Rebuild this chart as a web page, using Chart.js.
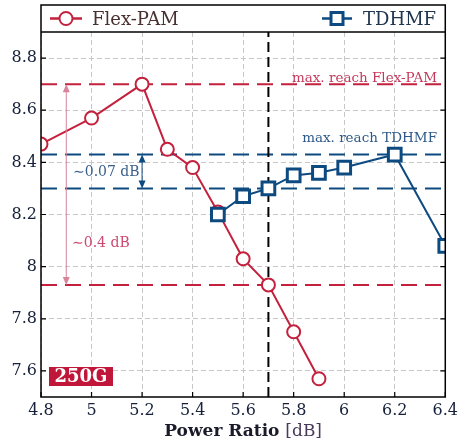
<!DOCTYPE html>
<html>
<head>
<meta charset="utf-8">
<script src="https://cdn.jsdelivr.net/npm/chart.js@4/dist/chart.umd.min.js"></script>
<style>
	html, body { margin: 0; padding: 0; background: #fff; }
	#wrap { width: 462px; height: 440px; }
</style>
</head>
<body>
<div id="wrap"><canvas id="reachChart" width="462" height="440"></canvas></div>
<script>
// values
var flexX = [4.8, 5.0, 5.2, 5.3, 5.4, 5.5, 5.6, 5.7, 5.8, 5.9];
var flexY = [8.47, 8.57, 8.70, 8.45, 8.38, 8.21, 8.03, 7.93, 7.75, 7.57];
var tdX = [5.5, 5.6, 5.7, 5.8, 5.9, 6.0, 6.2, 6.4];
var tdY = [8.20, 8.27, 8.30, 8.35, 8.36, 8.38, 8.43, 8.08];
var xTicks = [4.8, 5.0, 5.2, 5.4, 5.6, 5.8, 6.0, 6.2, 6.4];
var xTickLabels = ['4.8', '5', '5.2', '5.4', '5.6', '5.8', '6', '6.2', '6.4'];
var yTicks = [7.6, 7.8, 8.0, 8.2, 8.4, 8.6, 8.8];
var yTickLabels = ['7.6', '7.8', '8', '8.2', '8.4', '8.6', '8.8'];
var flexReach = [8.70, 7.93];
var tdReach = [8.43, 8.30];
var cutX = 5.7;

var RED = '#c3213d';
var BLUE = '#0c4a80';
var SERIF = '"DejaVu Serif", serif';

function hline(y, color, order){
	return {
		data: [{x: 4.8, y: y}, {x: 6.4, y: y}],
		borderColor: color,
		borderWidth: 2,
		borderDash: [16, 8],
		pointRadius: 0,
		order: order
	};
}

function arrow(ctx, x, y1, y2, color){
	ctx.save();
	ctx.strokeStyle = color;
	ctx.fillStyle = color;
	ctx.lineWidth = 1;
	ctx.beginPath();
	ctx.moveTo(x, y1 + 6);
	ctx.lineTo(x, y2 - 6);
	ctx.stroke();
	[[y1, 1], [y2, -1]].forEach(function(a){
		ctx.beginPath();
		ctx.moveTo(x, a[0]);
		ctx.lineTo(x - 3.5, a[0] + 8 * a[1]);
		ctx.lineTo(x + 3.5, a[0] + 8 * a[1]);
		ctx.closePath();
		ctx.fill();
	});
	ctx.restore();
}

var decorations = {
	id: 'decorations',
	afterDraw: function(chart){
		var ctx = chart.ctx;
		var a = chart.chartArea;
		var xs = chart.scales.x, ys = chart.scales.y;
		ctx.save();

		// inward tick marks
		ctx.strokeStyle = '#000';
		ctx.lineWidth = 1.2;
		ctx.beginPath();
		yTicks.forEach(function(v){
			var py = ys.getPixelForValue(v);
			ctx.moveTo(a.left, py); ctx.lineTo(a.left + 5, py);
			ctx.moveTo(a.right, py); ctx.lineTo(a.right - 5, py);
		});
		xTicks.forEach(function(v){
			var px = xs.getPixelForValue(v);
			ctx.moveTo(px, a.bottom); ctx.lineTo(px, a.bottom - 5);
		});
		ctx.stroke();

		// frame + legend box
		ctx.lineWidth = 1.5;
		ctx.strokeRect(a.left, 5, a.right - a.left, a.bottom - 5);
		ctx.beginPath();
		ctx.moveTo(a.left, a.top); ctx.lineTo(a.right, a.top);
		ctx.stroke();

		// legend
		var ly = 18.5;
		ctx.lineWidth = 2.5;
		ctx.strokeStyle = RED;
		ctx.beginPath(); ctx.moveTo(50, ly); ctx.lineTo(82, ly); ctx.stroke();
		ctx.fillStyle = '#fff';
		ctx.lineWidth = 2;
		ctx.beginPath(); ctx.arc(66, ly, 6.5, 0, Math.PI * 2); ctx.fill(); ctx.stroke();
		ctx.strokeStyle = BLUE;
		ctx.lineWidth = 2.5;
		ctx.beginPath(); ctx.moveTo(322, ly); ctx.lineTo(352, ly); ctx.stroke();
		ctx.lineWidth = 3;
		ctx.fillRect(331, ly - 6, 12, 12); ctx.strokeRect(331, ly - 6, 12, 12);
		ctx.font = '18px ' + SERIF;
		ctx.textBaseline = 'alphabetic';
		ctx.textAlign = 'left';
		ctx.fillStyle = '#4a3030';
		ctx.fillText('Flex-PAM', 92, 25);
		ctx.fillStyle = '#203650';
		ctx.fillText('TDHMF', 363, 25);

		// reach annotations
		arrow(ctx, xs.getPixelForValue(4.9), ys.getPixelForValue(flexReach[0]), ys.getPixelForValue(flexReach[1]), '#d8849a');
		arrow(ctx, xs.getPixelForValue(5.2), ys.getPixelForValue(tdReach[0]), ys.getPixelForValue(tdReach[1]), BLUE);
		ctx.font = '13.5px ' + SERIF;
		ctx.textAlign = 'right';
		ctx.fillStyle = '#c23a5c';
		ctx.fillText('max. reach Flex-PAM', 437, 82);
		ctx.fillStyle = '#2d5888';
		ctx.fillText('max. reach TDHMF', 437, 142);
		ctx.font = '14px ' + SERIF;
		ctx.textAlign = 'left';
		ctx.fillStyle = '#3a5f8a';
		ctx.fillText('\u223C0.07 dB', 73, 176);
		ctx.fillStyle = '#cc4a70';
		ctx.fillText('\u223C0.4 dB', 72, 247);

		// rate badge
		ctx.fillStyle = '#c0163a';
		ctx.fillRect(49, 367, 64, 19);
		ctx.fillStyle = '#fff';
		ctx.font = 'bold 18px ' + SERIF;
		ctx.textAlign = 'center';
		ctx.textBaseline = 'middle';
		ctx.fillText('250G', 81, 377);

		// x axis title, bold + normal parts
		ctx.textBaseline = 'alphabetic';
		ctx.textAlign = 'left';
		ctx.font = 'bold 17px ' + SERIF;
		var w1 = ctx.measureText('Power Ratio ').width;
		ctx.font = '17px ' + SERIF;
		var w2 = ctx.measureText('[dB]').width;
		var sx = (a.left + a.right) / 2 - (w1 + w2) / 2;
		ctx.font = 'bold 17px ' + SERIF;
		ctx.fillStyle = '#1a1a2a';
		ctx.fillText('Power Ratio ', sx, 436);
		ctx.font = '17px ' + SERIF;
		ctx.fillStyle = '#4a3a5a';
		ctx.fillText('[dB]', sx + w1, 436);
		ctx.restore();
	}
};

var chart = new Chart(document.getElementById('reachChart'), {
	type: 'line',
	data: {
		datasets: [
		{
			label: 'TDHMF',
			data: tdX.map(function(x, i){ return {x: x, y: tdY[i]}; }),
			borderColor: BLUE,
			borderWidth: 2,
			pointStyle: 'rect',
			pointRadius: 9,
			pointBorderWidth: 3,
			pointBackgroundColor: '#fff',
			order: 0
		},
		{
			label: 'Flex-PAM',
			data: flexX.map(function(x, i){ return {x: x, y: flexY[i]}; }),
			borderColor: RED,
			borderWidth: 2,
			pointStyle: 'circle',
			pointRadius: 6.5,
			pointBorderWidth: 2,
			pointBackgroundColor: '#fff',
			order: 1
		},
		{
			data: [{x: cutX, y: 7.5}, {x: cutX, y: 8.9}],
			borderColor: '#000',
			borderWidth: 2,
			borderDash: [10, 5],
			pointRadius: 0,
			order: 2
		},
		hline(flexReach[0], RED, 3),
		hline(flexReach[1], RED, 3),
		hline(tdReach[0], BLUE, 3),
		hline(tdReach[1], BLUE, 3)
		]
	},
	options: {
		responsive: false,
		animation: false,
		layout: { padding: { left: 0, right: 15, top: 32, bottom: 0 } },
		plugins: {
			legend: { display: false },
			tooltip: { enabled: false }
		},
		scales: {
			x: {
				type: 'linear',
				min: 4.8,
				max: 6.4,
				afterBuildTicks: function(s){ s.ticks = xTicks.map(function(v){ return {value: v}; }); },
				afterFit: function(s){ s.height = 43; },
				ticks: {
					callback: function(v){ return xTickLabels[xTicks.indexOf(Math.round(v * 10) / 10)]; },
					font: { family: SERIF, size: 16 },
					color: '#16203a',
					padding: 4,
					maxRotation: 0
				},
				grid: { color: '#c8c8c8', lineWidth: 1, drawTicks: false },
				border: { display: false, dash: [5, 3] }
			},
			y: {
				min: 7.5,
				max: 8.9,
				afterBuildTicks: function(s){ s.ticks = yTicks.map(function(v){ return {value: v}; }); },
				afterFit: function(s){ s.width = 41; },
				ticks: {
					callback: function(v){ return yTickLabels[yTicks.indexOf(Math.round(v * 10) / 10)]; },
					font: { family: SERIF, size: 16 },
					color: '#16203a',
					padding: 4
				},
				grid: { color: '#c8c8c8', lineWidth: 1, drawTicks: false },
				border: { display: false, dash: [5, 3] }
			}
		}
	},
	plugins: [decorations]
});
</script>
</body>
</html>
